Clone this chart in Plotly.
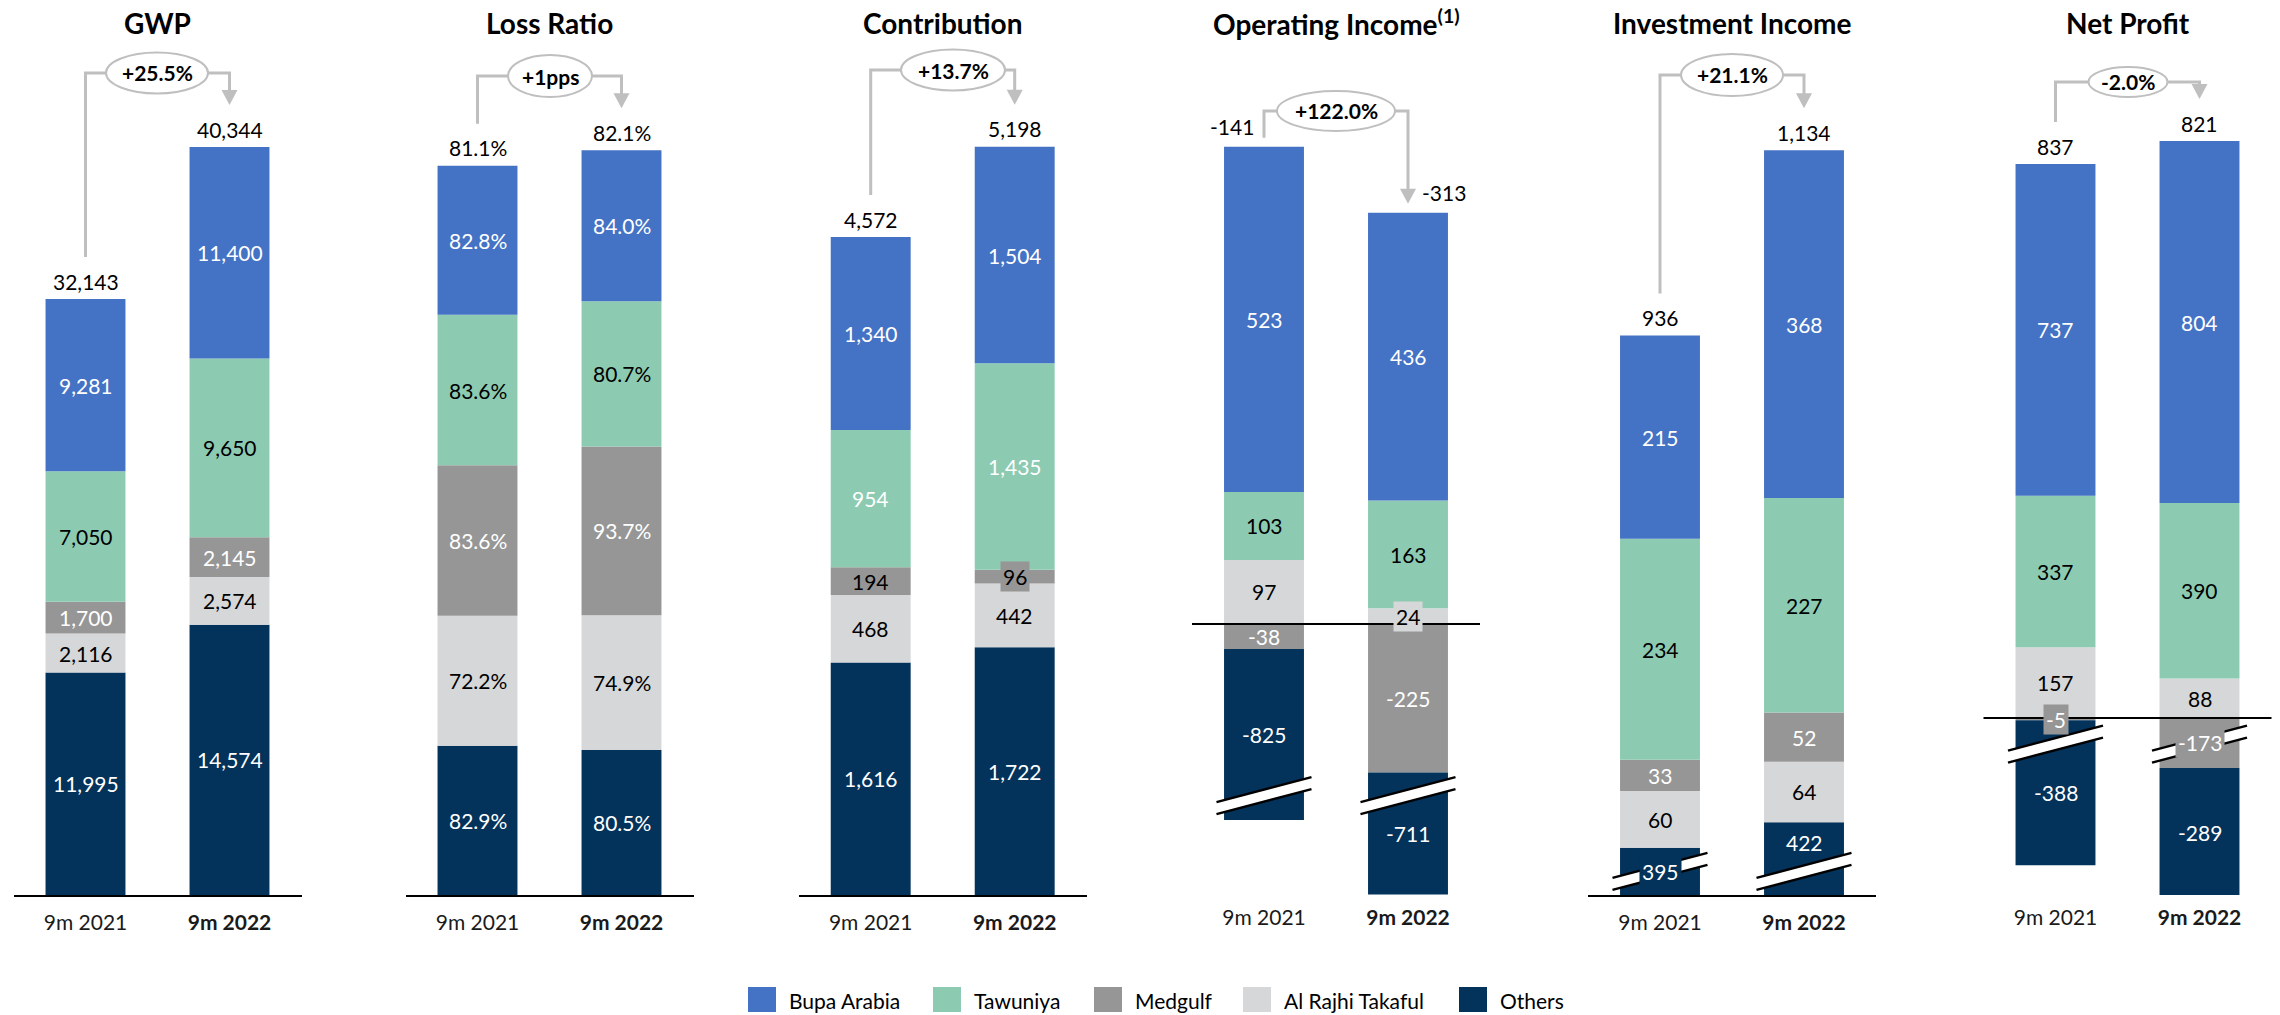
import plotly.graph_objects as go

W, H = 2280, 1015          # browser window
OFF = 8                     # page body margin
FW, FH = W - OFF, H - OFF   # figure size

# ---------------- data ----------------
panel_titles = ["GWP", "Loss Ratio", "Contribution", "Operating Income<sup>(1)</sup>",
                "Investment Income", "Net Profit"]
periods = ["9m 2021", "<b>9m 2022</b>"]
series_names = ["Bupa Arabia", "Tawuniya", "Medgulf", "Al Rajhi Takaful", "Others"]

bupa_arabia = [[9281, 11400], [82.8, 84.0], [1340, 1504], [523, 436], [215, 368], [737, 804]]
tawuniya = [[7050, 9650], [83.6, 80.7], [954, 1435], [103, 163], [234, 227], [337, 390]]
medgulf = [[1700, 2145], [83.6, 93.7], [194, 96], [-38, -225], [33, 52], [-5, -173]]
al_rajhi = [[2116, 2574], [72.2, 74.9], [468, 442], [97, 24], [60, 64], [157, 88]]
others = [[11995, 14574], [82.9, 80.5], [1616, 1722], [-825, -711], [395, 422], [-388, -289]]

total_labels = [["32,143", "40,344"], ["81.1%", "82.1%"], ["4,572", "5,198"],
                ["-141", "-313"], ["936", "1,134"], ["837", "821"]]
change_labels = ["+25.5%", "+1pps", "+13.7%", "+122.0%", "+21.1%", "-2.0%"]

# part of a segment hidden by an axis break (panel, series) -> [2021, 2022]
break_hidden = {(3, "Others"): [566, 526], (4, "Others"): [345, 345],
                (5, "Others"): [66, 0], (5, "Medgulf"): [0, 62]}
# where the break is drawn on the value axis, per panel
break_at = {3: -260, 4: 25, 5: -58}

values = {"Bupa Arabia": bupa_arabia, "Tawuniya": tawuniya, "Medgulf": medgulf,
          "Al Rajhi Takaful": al_rajhi, "Others": others}

# ---------------- styles / layout ----------------
colors = {"Bupa Arabia": "#4472C4", "Tawuniya": "#8CCBB1", "Medgulf": "#969696",
          "Al Rajhi Takaful": "#D6D7D9", "Others": "#03325A"}
FONT = "Lato"
GREY = "#BFBFBF"
LBL = 21

centers = [157.5, 549.5, 942.7, 1336, 1732, 2127.5]   # panel centres (px)
zero_px = [895, 895, 895, 624, 895, 718]                # pixel row of value 0
px_per_unit = [0.01854, 1.8, 0.1439, 0.66, 0.945, 0.45]
BOTTOM, TOP = 895, 40
HALF = 144          # half panel width (px); 1 category step = 144 px
ellipses = [(157, 73, 102, 41), (550, 76, 84, 42), (953, 70, 104, 41),
            (1336, 111, 118, 40), (1732, 75, 102, 42), (2128, 82, 79, 30)]


def px2x(px):
    return (px - OFF) / FW


def px2y(py):
    return 1 - (py - OFF) / FH


def fmt(panel, v):
    if panel == 1:
        return f"{v:.1f}%"
    return f"{v:,}"


def text_color(panel, s):
    if s in ("Bupa Arabia", "Others"):
        return "white"
    if s == "Medgulf":
        return "black" if panel == 2 else "white"
    if s == "Tawuniya":
        return "white" if panel == 2 else "black"
    return "black"


boxed = {(2, "Medgulf", 1): "#969696", (3, "Al Rajhi Takaful", 1): "#D6D7D9",
         (5, "Medgulf", 0): "#969696", (4, "Others", 0): "#03325A",
         (5, "Medgulf", 1): "#969696"}
label_shift = {(4, "Others", 1): 16}

fig = go.Figure()
annotations = []
shapes = []
layout_axes = {}

for p in range(6):
    k = "" if p == 0 else str(p + 1)
    xa, ya = "x" + k, "y" + k
    c = centers[p]
    s_px = px_per_unit[p]
    z = zero_px[p]
    ymin = -(BOTTOM - z) / s_px
    ymax = (z - TOP) / s_px

    mixed = p in (3, 5)
    order = (["Al Rajhi Takaful", "Medgulf", "Others", "Tawuniya", "Bupa Arabia"] if mixed
             else ["Others", "Al Rajhi Takaful", "Medgulf", "Tawuniya", "Bupa Arabia"])

    pos_base = [0.0, 0.0]
    neg_base = [0.0, 0.0]
    for s in order:
        shown = []
        for j in range(2):
            v = values[s][p][j]
            hid = break_hidden.get((p, s), [0, 0])[j]
            sv = (abs(v) - hid) * (1 if v >= 0 else -1)
            shown.append(sv)
            if sv >= 0:
                y0, y1 = pos_base[j], pos_base[j] + sv
                pos_base[j] = y1
            else:
                y0, y1 = neg_base[j], neg_base[j] + sv
                neg_base[j] = y1
            key = (p, s, j)
            ann = dict(xref=xa, yref=ya, x=j, y=(y0 + y1) / 2, text=fmt(p, v),
                       showarrow=False,
                       font=dict(family=FONT, size=LBL, color=text_color(p, s)),
                       yshift=label_shift.get(key, 0))
            if key in boxed:
                ann.update(bgcolor=boxed[key], borderpad=2)
            annotations.append(ann)
        fig.add_trace(go.Bar(x=[0, 1], y=shown, name=s, marker=dict(color=colors[s], line=dict(width=0)),
                             width=0.555, xaxis=xa, yaxis=ya, showlegend=False,
                             hovertext=[fmt(p, values[s][p][0]), fmt(p, values[s][p][1])],
                             hoverinfo="name+text"))

    layout_axes["xaxis" + k] = dict(domain=[px2x(c - HALF), px2x(c + HALF)], range=[-0.5, 1.5],
                                    tickvals=[0, 1], ticktext=periods, anchor=ya,
                                    showline=(z == BOTTOM), linecolor="black", linewidth=2,
                                    ticks="", showgrid=False, zeroline=False, fixedrange=True,
                                    ticklabelstandoff=8,
                                    tickfont=dict(family=FONT, size=21, color="#1a1a1a"))
    layout_axes["yaxis" + k] = dict(domain=[px2y(BOTTOM), px2y(TOP)], range=[ymin, ymax],
                                    visible=False, anchor=xa, fixedrange=True)

    # zero line for panels with negative parts
    if z != BOTTOM:
        shapes.append(dict(type="line", xref=xa + " domain", yref=ya, x0=0, x1=1, y0=0, y1=0,
                           line=dict(color="black", width=2)))

    # axis breaks
    if p in break_at:
        yc = z - break_at[p] * s_px
        for j in range(2):
            bx = c - 72 + 144 * j
            xL, xR = bx - 47.5, bx + 47.5
            path = (f"M{px2x(xL)},{px2y(yc + 6.5)} L{px2x(xR)},{px2y(yc - 18.5)} "
                    f"L{px2x(xR)},{px2y(yc - 6.5)} L{px2x(xL)},{px2y(yc + 18.5)} Z")
            shapes.append(dict(type="path", xref="paper", yref="paper", path=path,
                               fillcolor="white", line=dict(width=0)))
            shapes.append(dict(type="line", xref="paper", yref="paper",
                               x0=px2x(xL), y0=px2y(yc + 6.5), x1=px2x(xR), y1=px2y(yc - 18.5),
                               line=dict(color="black", width=2.5)))
            shapes.append(dict(type="line", xref="paper", yref="paper",
                               x0=px2x(xL), y0=px2y(yc + 18.5), x1=px2x(xR), y1=px2y(yc - 6.5),
                               line=dict(color="black", width=2.5)))

    # totals
    tops = [z - pos_base[j] * s_px for j in range(2)]
    for j in range(2):
        bx = c - 72 + 144 * j
        if p == 3:
            if j == 0:
                annotations.append(dict(xref="paper", yref="paper", x=px2x(bx - 8), y=px2y(tops[j] - 20),
                                        xanchor="right", yanchor="middle", showarrow=False,
                                        text=total_labels[p][j],
                                        font=dict(family=FONT, size=LBL, color="black")))
            else:
                annotations.append(dict(xref="paper", yref="paper", x=px2x(bx + 12), y=px2y(tops[j] - 20),
                                        xanchor="left", yanchor="middle", showarrow=False,
                                        text=total_labels[p][j],
                                        font=dict(family=FONT, size=LBL, color="black")))
        else:
            annotations.append(dict(xref="paper", yref="paper", x=px2x(bx), y=px2y(tops[j] - 18),
                                    xanchor="center", yanchor="middle", showarrow=False,
                                    text=total_labels[p][j],
                                    font=dict(family=FONT, size=LBL, color="black")))

    # connector with change bubble
    off = 9 if p == 3 else 42
    ecx, ecy, ew, eh = ellipses[p]
    b1, b2 = c - 72, c + 72
    y_start = tops[0] - off
    tip = tops[1] - off
    path = (f"M{px2x(b1)},{px2y(y_start)} L{px2x(b1)},{px2y(ecy)} L{px2x(b2)},{px2y(ecy)} "
            f"L{px2x(b2)},{px2y(tip - 14)}")
    shapes.append(dict(type="path", xref="paper", yref="paper", path=path,
                       line=dict(color=GREY, width=3)))
    tri = (f"M{px2x(b2 - 8)},{px2y(tip - 15)} L{px2x(b2 + 8)},{px2y(tip - 15)} "
           f"L{px2x(b2)},{px2y(tip)} Z")
    shapes.append(dict(type="path", xref="paper", yref="paper", path=tri,
                       fillcolor=GREY, line=dict(width=0)))
    shapes.append(dict(type="circle", xref="paper", yref="paper",
                       x0=px2x(ecx - ew / 2), x1=px2x(ecx + ew / 2),
                       y0=px2y(ecy + eh / 2), y1=px2y(ecy - eh / 2),
                       fillcolor="white", line=dict(color=GREY, width=2)))
    annotations.append(dict(xref="paper", yref="paper", x=px2x(ecx), y=px2y(ecy),
                            xanchor="center", yanchor="middle", showarrow=False,
                            text=f"<b>{change_labels[p]}</b>",
                            font=dict(family=FONT, size=21, color="black")))

    # title
    annotations.append(dict(xref="paper", yref="paper", x=px2x(c), y=px2y(23),
                            xanchor="center", yanchor="middle", showarrow=False,
                            text=f"<b>{panel_titles[p]}</b>",
                            font=dict(family=FONT, size=28, color="black")))

# manual legend
leg_sq = [748, 933, 1094, 1243, 1459]
for s, lx in zip(series_names, leg_sq):
    shapes.append(dict(type="rect", xref="paper", yref="paper",
                       x0=px2x(lx), x1=px2x(lx + 28), y0=px2y(1012), y1=px2y(987),
                       fillcolor=colors[s], line=dict(width=0)))
    annotations.append(dict(xref="paper", yref="paper", x=px2x(lx + 39), y=px2y(1000),
                            xanchor="left", yanchor="middle", showarrow=False, text=s,
                            font=dict(family=FONT, size=21, color="black")))

fig.update_layout(
    width=FW, height=FH,
    margin=dict(l=0, r=0, t=0, b=0),
    paper_bgcolor="white", plot_bgcolor="white",
    barmode="relative",
    showlegend=False,
    annotations=annotations,
    shapes=shapes,
    font=dict(family=FONT),
    **layout_axes,
)

fig.write_html("out.html")
